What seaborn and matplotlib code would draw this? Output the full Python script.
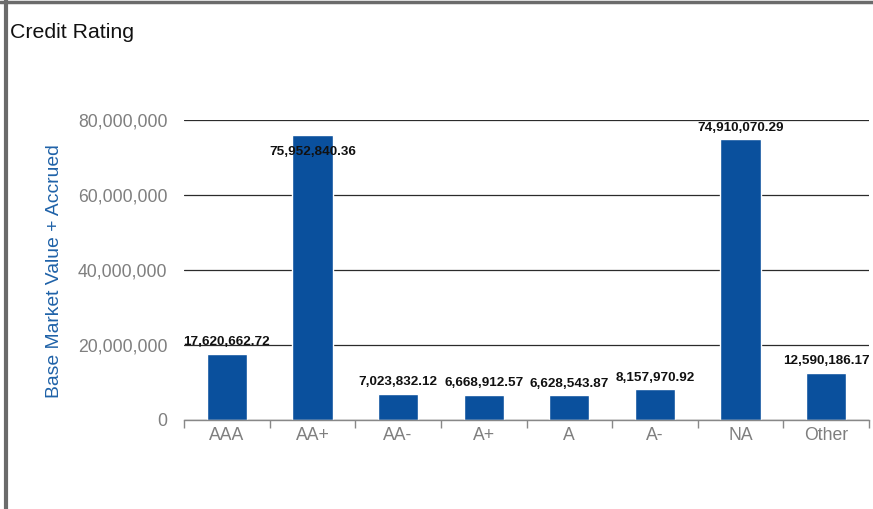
import pandas as pd
import seaborn as sns
import matplotlib.pyplot as plt
from matplotlib.lines import Line2D
from matplotlib.ticker import FuncFormatter, FixedLocator

ratings = ["AAA", "AA+", "AA-", "A+", "A", "A-", "NA", "Other"]
values = [17620662.72, 75952840.36, 7023832.12, 6668912.57,
          6628543.87, 8157970.92, 74910070.29, 12590186.17]
y_ticks = [0, 20000000, 40000000, 60000000, 80000000]

df = pd.DataFrame({"rating": ratings, "value": values})

sns.set_style("white")
plt.rcParams["font.family"] = ["Liberation Sans", "DejaVu Sans"]

fig = plt.figure(figsize=(8.73, 5.09), dpi=100)
ax = fig.add_axes([184 / 873, 1 - 420 / 509, 685 / 873, 300 / 509])

sns.barplot(data=df, x="rating", y="value", color="#0a509d", width=0.47,
            saturation=1, ax=ax)

ax.set_ylim(0, 80000000)
ax.set_xlim(-0.5, len(ratings) - 0.5)
ax.set_yticks(y_ticks)
ax.yaxis.set_major_formatter(FuncFormatter(lambda v, p: f"{v:,.0f}"))
ax.grid(axis="y", color="#2b2b2b", linewidth=0.9)
ax.set_axisbelow(True)
ax.tick_params(axis="y", length=0, pad=12, labelsize=12.7, labelcolor="#7f7f7f")
ax.tick_params(axis="x", which="major", length=0, pad=5, labelsize=12.7,
               labelcolor="#7f7f7f")
ax.xaxis.set_minor_locator(FixedLocator([i - 0.5 for i in range(len(ratings) + 1)]))
ax.tick_params(axis="x", which="minor", length=6, width=1, color="#888888",
               direction="out", bottom=True)
for s in ["top", "right", "left"]:
    ax.spines[s].set_visible(False)
ax.spines["bottom"].set_color("#888888")
ax.spines["bottom"].set_linewidth(1)
ax.set_xlabel("")
ax.set_ylabel("")

for i, v in enumerate(values):
    if v > 0.94 * 80000000:
        off, va = -8, "top"
    else:
        off, va = 4, "bottom"
    ax.annotate(f"{v:,.2f}", (i, v), xytext=(0, off), textcoords="offset points",
                ha="center", va=va, fontsize=9.7, fontweight="bold", color="#111111")

fig.text(10 / 873, 1 - 33 / 509, "Credit Rating", fontsize=15.3, va="center",
         ha="left", color="#111111")
fig.text(55 / 873, 1 - 271 / 509, "Base Market Value + Accrued", rotation=90,
         fontsize=13.9, va="center", ha="center", color="#1f62a8")

fig.add_artist(Line2D([6 / 873, 6 / 873], [0, 1], color="#6b6b6b", linewidth=3))
fig.add_artist(Line2D([0, 1], [1 - 1.5 / 509, 1 - 1.5 / 509], color="#6b6b6b",
                      linewidth=2.5))

fig.savefig("out.png", dpi=100)
